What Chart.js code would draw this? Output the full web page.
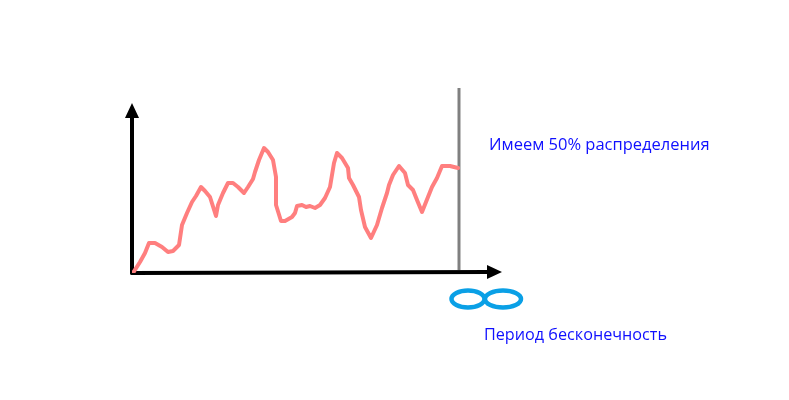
<!DOCTYPE html>
<html>
<head>
<meta charset="utf-8">
<script src="https://cdn.jsdelivr.net/npm/chart.js@4.4.0/dist/chart.umd.min.js"></script>
<style>
  html, body { margin: 0; padding: 0; background: #ffffff; }
  #wrap { width: 789px; height: 400px; }
</style>
</head>
<body>
<div id="wrap"><canvas id="chart"></canvas></div>
<script>
// Данные кривой (оси: x от 0 до 370, y от 0 до 185)
const curveX = [1, 8, 13, 17, 23, 30, 36, 41, 47, 50, 55, 60, 64, 69, 73, 78, 84, 86, 91, 96,
  101, 106, 112, 116, 121, 123, 127, 132, 136, 141, 144, 144, 149, 153, 160, 163, 165, 170, 174, 178,
  183, 188, 193, 198, 202, 205, 210, 216, 217, 221, 227, 229, 233, 239, 245, 250, 255, 257, 261, 267,
  273, 276, 281, 285, 290, 294, 300, 305, 310, 318, 326];
const curveY = [0, 11, 20, 30, 30, 26, 21, 22, 28, 48, 60, 71, 77, 86, 82, 76, 57, 68, 80, 90,
  90, 86, 80, 86, 94, 101, 113, 125, 121, 113, 96, 68, 52, 52, 56, 60, 67, 68, 66, 67,
  65, 68, 75, 86, 110, 120, 115, 105, 95, 88, 76, 63, 46, 35, 48, 65, 80, 88, 98, 107,
  100, 88, 83, 73, 61, 71, 86, 95, 107, 107, 105];

// Вертикальная линия "бесконечность"
const limitX = [327, 327];
const limitY = [3, 185];

// Оси
const axisXMax = 370;
const axisYMax = 170;

const labelTop = 'Имеем 50% распределения';
const labelBottom = 'Период бесконечность';

const curveData = curveX.map((x, i) => ({ x: x, y: curveY[i] }));
const limitData = limitX.map((x, i) => ({ x: x, y: limitY[i] }));

// Плагин: оси со стрелками, знак бесконечности и подписи
const sketchPlugin = {
  id: 'sketch',
  beforeDatasetsDraw(chart) {
    const ctx = chart.ctx;
    const sx = chart.scales.x;
    const sy = chart.scales.y;
    const x0 = sx.getPixelForValue(0);
    const y0 = sy.getPixelForValue(0);
    const xEnd = sx.getPixelForValue(axisXMax);
    const yEnd = sy.getPixelForValue(axisYMax);

    ctx.save();
    ctx.strokeStyle = '#000000';
    ctx.fillStyle = '#000000';
    ctx.lineWidth = 4;
    ctx.lineCap = 'round';
    // ось Y
    ctx.beginPath();
    ctx.moveTo(x0, y0);
    ctx.lineTo(x0, yEnd + 12);
    ctx.stroke();
    ctx.beginPath();
    ctx.moveTo(x0, yEnd);
    ctx.lineTo(x0 - 7, yEnd + 15);
    ctx.lineTo(x0 + 7, yEnd + 15);
    ctx.closePath();
    ctx.fill();
    // ось X
    ctx.beginPath();
    ctx.moveTo(x0, y0);
    ctx.lineTo(xEnd - 12, y0 - 1);
    ctx.stroke();
    ctx.beginPath();
    ctx.moveTo(xEnd, y0 - 1);
    ctx.lineTo(xEnd - 15, y0 - 8);
    ctx.lineTo(xEnd - 15, y0 + 6);
    ctx.closePath();
    ctx.fill();
    ctx.restore();
  },
  afterDatasetsDraw(chart) {
    const ctx = chart.ctx;
    const sx = chart.scales.x;
    const sy = chart.scales.y;
    const lx = sx.getPixelForValue(limitX[0]);
    const y0 = sy.getPixelForValue(0);

    ctx.save();
    // знак бесконечности
    ctx.strokeStyle = '#0aa0e6';
    ctx.lineWidth = 4.5;
    ctx.beginPath();
    ctx.ellipse(lx + 9, y0 + 26, 16.5, 8.5, 0, 0, Math.PI * 2);
    ctx.stroke();
    ctx.beginPath();
    ctx.ellipse(lx + 44, y0 + 26, 18, 8.5, 0, 0, Math.PI * 2);
    ctx.stroke();

    // подписи
    ctx.fillStyle = '#1010ff';
    ctx.textBaseline = 'middle';
    ctx.font = '16.5px "Open Sans", sans-serif';
    ctx.fillText(labelTop, lx + 30, sy.getPixelForValue(128));
    ctx.font = '16.2px "Open Sans", sans-serif';
    ctx.fillText(labelBottom, lx + 25, y0 + 62);
    ctx.restore();
  }
};

new Chart(document.getElementById('chart'), {
  type: 'line',
  data: {
    datasets: [
      {
        label: 'Кривая',
        data: curveData,
        borderColor: '#ff7f7f',
        borderWidth: 4,
        borderCapStyle: 'round',
        borderJoinStyle: 'round',
        pointRadius: 0,
        tension: 0,
        fill: false
      },
      {
        label: 'Граница',
        data: limitData,
        borderColor: '#808080',
        borderWidth: 3,
        pointRadius: 0,
        fill: false
      }
    ]
  },
  options: {
    responsive: true,
    maintainAspectRatio: false,
    animation: false,
    layout: { padding: { left: 132, right: 287, top: 88, bottom: 127 } },
    plugins: {
      legend: { display: false },
      tooltip: { enabled: false }
    },
    scales: {
      x: { type: 'linear', min: 0, max: axisXMax, display: false },
      y: { type: 'linear', min: 0, max: 185, display: false }
    }
  },
  plugins: [sketchPlugin]
});
</script>
</body>
</html>
